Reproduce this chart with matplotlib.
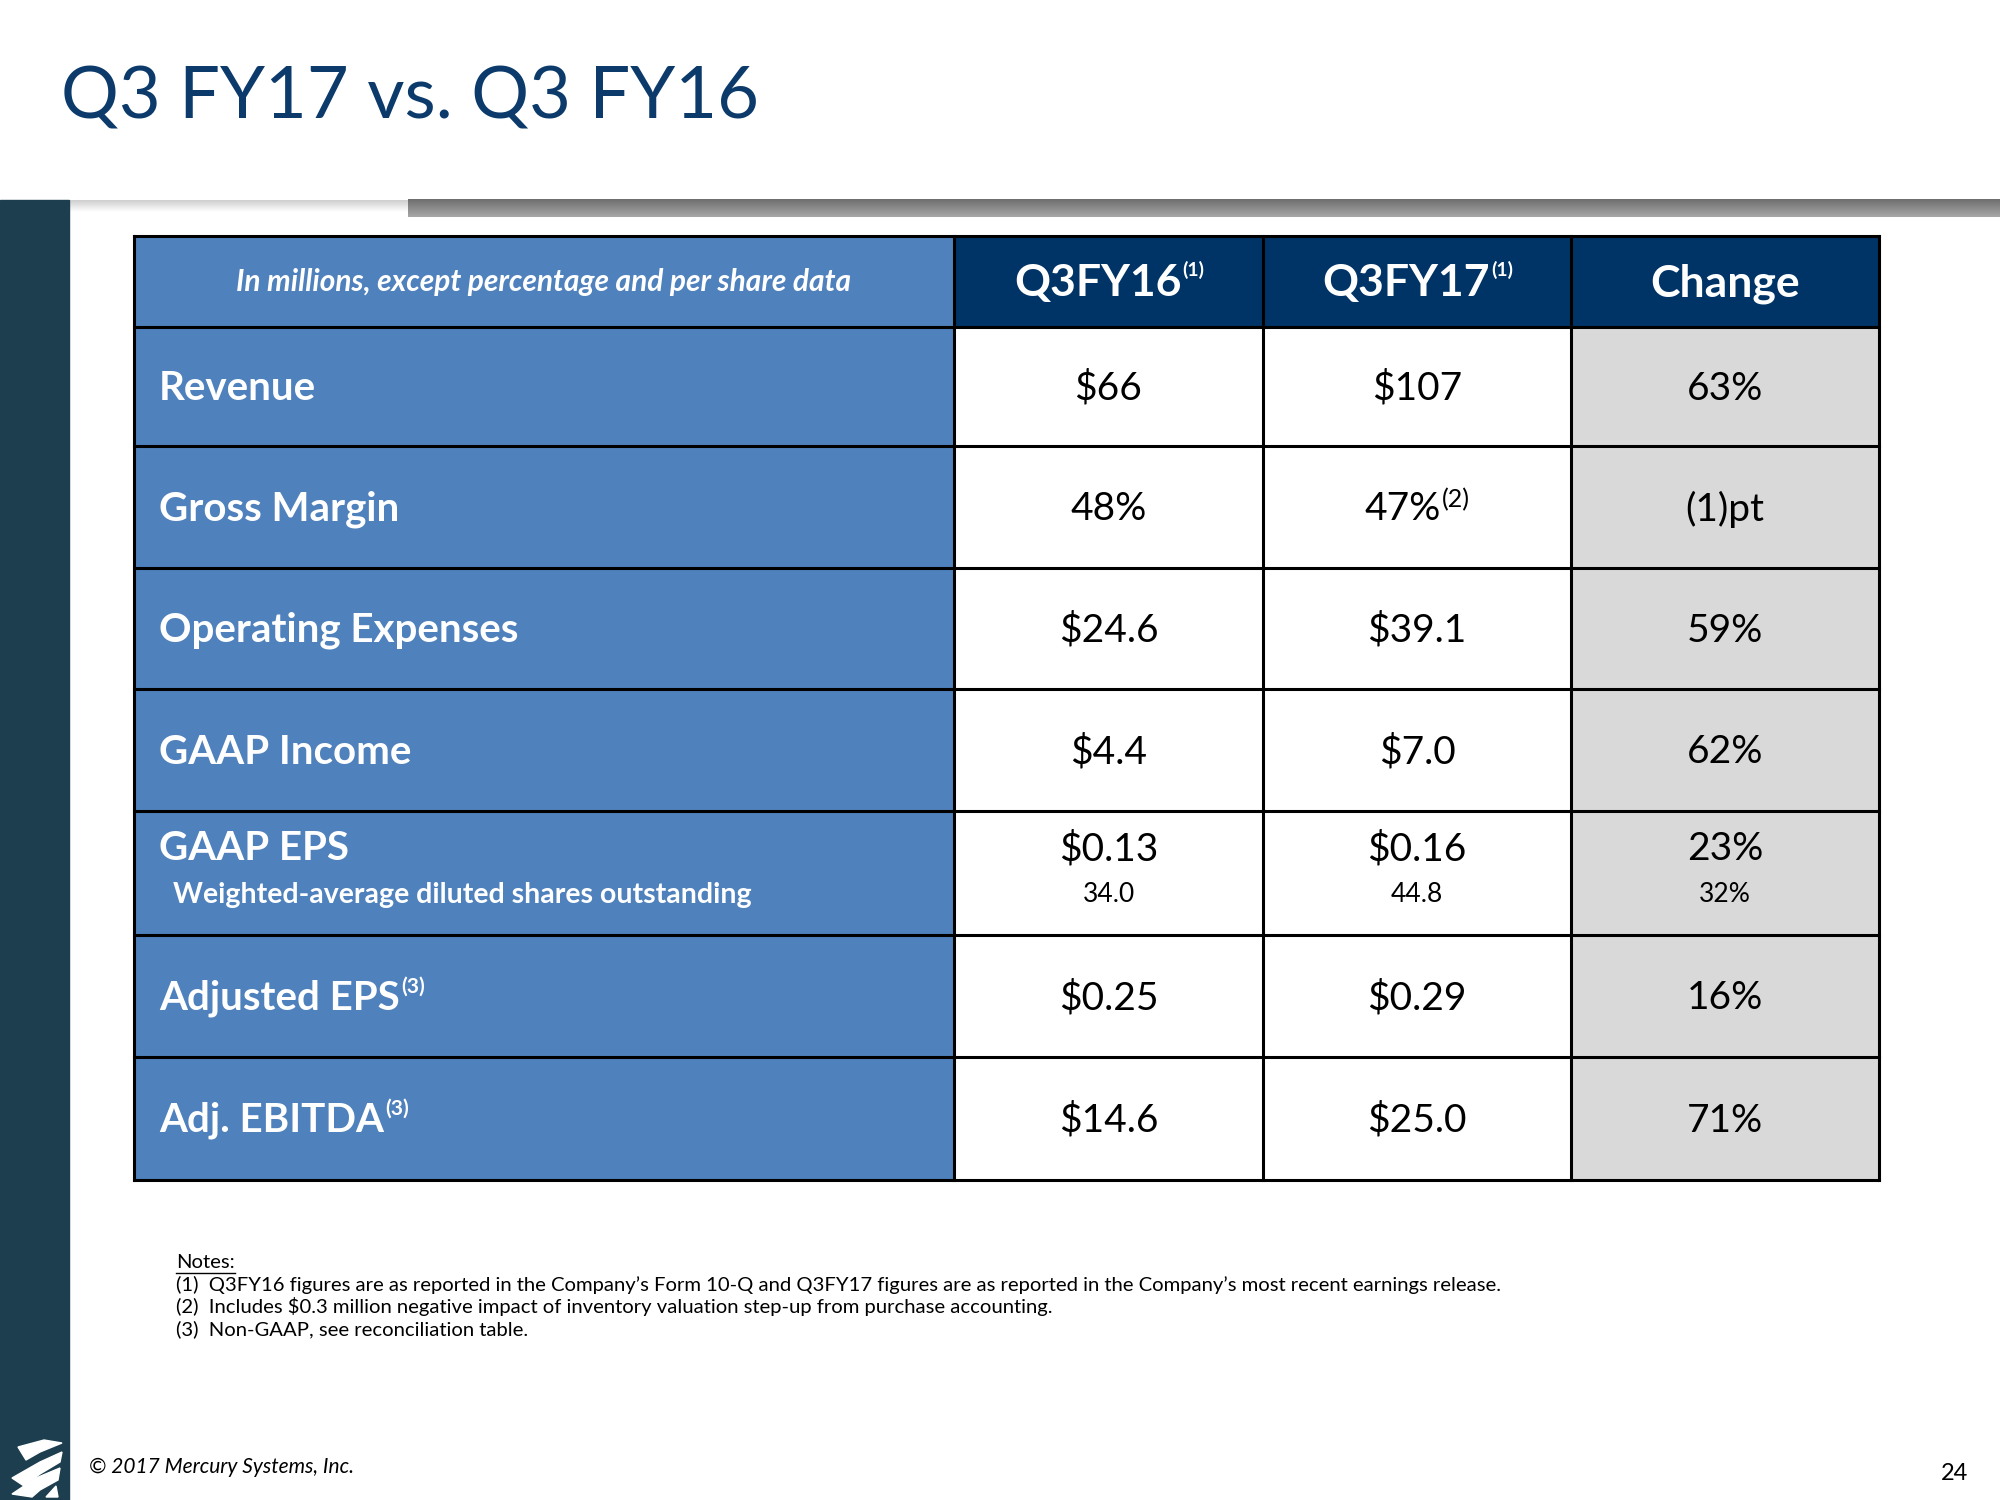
import numpy as np
import matplotlib
matplotlib.use('Agg')
import matplotlib.pyplot as plt
from matplotlib.patches import Rectangle, Polygon

plt.rcParams['font.family'] = ['Lato', 'DejaVu Sans']

# 표 데이터
labels = ['Revenue', 'Gross Margin', 'Operating Expenses', 'GAAP Income', 'GAAP EPS', 'Adjusted EPS', 'Adj. EBITDA']
label_notes = ['', '', '', '', '', '(3)', '(3)']
q3fy16 = ['$66', '48%', '$24.6', '$4.4', '$0.13', '$0.25', '$14.6']
q3fy17 = ['$107', '47%', '$39.1', '$7.0', '$0.16', '$0.29', '$25.0']
q3fy17_notes = ['', '(2)', '', '', '', '', '']
change = ['63%', '(1)pt', '59%', '62%', '23%', '16%', '71%']
shares_label = 'Weighted-average diluted shares outstanding'
shares = ['34.0', '44.8', '32%']
headers = ['Q3FY16', 'Q3FY17', 'Change']
header_notes = ['(1)', '(1)', '']
notes = ['(1)  Q3FY16 figures are as reported in the Company\u2019s Form 10-Q and Q3FY17 figures are as reported in the Company\u2019s most recent earnings release.',
         '(2)  Includes $0.3 million negative impact of inventory valuation step-up from purchase accounting.',
         '(3)  Non-GAAP, see reconciliation table.']

NAVY = '#003366'
BLUE = '#4F81BD'
GRAY = '#D9D9D9'
STRIP = '#1C3E4E'

fig = plt.figure(figsize=(20, 15), dpi=100)
ax = fig.add_axes([0, 0, 1, 1])
ax.set_xlim(0, 2000)
ax.set_ylim(1500, 0)
ax.axis('off')
renderer = fig.canvas.get_renderer()


def esc(s):
    return s.replace('$', r'\$')


def text_sup(xc, yc, main, note, size, nsize, color, weight='normal', nweight=None, **kw):
    # 본문+위첨자를 묶어서 가운데 정렬
    t = ax.text(xc, yc, esc(main), fontsize=size, color=color, weight=weight, ha='center', va='center', zorder=3, **kw)
    if not note:
        return t
    n = ax.text(0, 0, note, fontsize=nsize, color=color, weight=nweight or weight, ha='left', va='top', zorder=3)
    nw = n.get_window_extent(renderer=renderer).width
    t.set_x(xc - nw / 2)
    bb = t.get_window_extent(renderer=renderer)
    n.set_position((bb.x1 + 1, 1500 - bb.y1 - 3))
    return t


def sup_left(t, note, size, color, weight='normal'):
    bb = t.get_window_extent(renderer=renderer)
    ax.text(bb.x1 + 1, 1500 - bb.y1 - 3, note, fontsize=size, color=color, weight=weight, ha='left', va='top', zorder=3)


# 상단 장식
ax.add_patch(Rectangle((0, 200), 69, 1300, color=STRIP, zorder=1))
grad = np.linspace(0, 1, 50).reshape(-1, 1)
ax.imshow(grad, extent=(408, 2000, 217, 199), cmap=matplotlib.colors.LinearSegmentedColormap.from_list('g', ['#6e6e6e', '#a8a8a8']), aspect='auto', zorder=1)
ax.imshow(grad, extent=(69, 2000, 212, 200), cmap=matplotlib.colors.LinearSegmentedColormap.from_list('s', ['#cfcfcf', '#ffffff']), aspect='auto', zorder=0.5)
ax.set_xlim(0, 2000)
ax.set_ylim(1500, 0)

ax.text(61, 98, 'Q3 FY17 vs. Q3 FY16', fontsize=52, color='#0B3A6B', ha='left', va='center')

# 표 레이아웃
col_x = [134, 954, 1263, 1571, 1879]
row_y = [236, 327, 446, 568, 689, 811, 935, 1057, 1180]

# 헤더 행
ax.add_patch(Rectangle((col_x[0], row_y[0]), col_x[1] - col_x[0], row_y[1] - row_y[0], color=BLUE, zorder=2))
ax.add_patch(Rectangle((col_x[1], row_y[0]), col_x[4] - col_x[1], row_y[1] - row_y[0], color=NAVY, zorder=2))
ax.text((col_x[0] + col_x[1]) / 2, (row_y[0] + row_y[1]) / 2, 'In millions, except percentage and per share data',
        fontsize=21.5, color='white', style='italic', weight='bold', ha='center', va='center', zorder=3)
for j, h in enumerate(headers):
    text_sup((col_x[j + 1] + col_x[j + 2]) / 2, (row_y[0] + row_y[1]) / 2 + 2, h, header_notes[j], 32, 14, 'white', 'bold')

# 본문 행
for i, lab in enumerate(labels):
    y0, y1 = row_y[i + 1], row_y[i + 2]
    yc = (y0 + y1) / 2 + 2
    ax.add_patch(Rectangle((col_x[0], y0), col_x[1] - col_x[0], y1 - y0, color=BLUE, zorder=2))
    ax.add_patch(Rectangle((col_x[1], y0), col_x[3] - col_x[1], y1 - y0, color='white', zorder=2))
    ax.add_patch(Rectangle((col_x[3], y0), col_x[4] - col_x[3], y1 - y0, color=GRAY, zorder=2))
    vals = [q3fy16[i], q3fy17[i], change[i]]
    if lab == 'GAAP EPS':
        ym, ys = y0 + 38, y0 + 84
        ax.text(159, ym, lab, fontsize=29, color='white', weight='bold', ha='left', va='center', zorder=3)
        ax.text(173, ys, shares_label, fontsize=20.5, color='white', weight='bold', ha='left', va='center', zorder=3)
        for j in range(3):
            xc = (col_x[j + 1] + col_x[j + 2]) / 2
            ax.text(xc, ym, esc(vals[j]), fontsize=28, color='black', ha='center', va='center', zorder=3)
            ax.text(xc, ys, shares[j], fontsize=19, color='black', ha='center', va='center', zorder=3)
        continue
    t = ax.text(159, yc, lab, fontsize=29, color='white', weight='bold', ha='left', va='center', zorder=3)
    if label_notes[i]:
        sup_left(t, label_notes[i], 15, 'white', 'bold')
    for j in range(3):
        xc = (col_x[j + 1] + col_x[j + 2]) / 2
        note = q3fy17_notes[i] if j == 1 else ''
        text_sup(xc, yc, vals[j], note, 28, 18, 'black')

# 격자선
for x in col_x:
    ax.plot([x, x], [row_y[0], row_y[-1]], color='black', lw=2.2, zorder=4, solid_capstyle='projecting')
for y in row_y:
    ax.plot([col_x[0], col_x[-1]], [y, y], color='black', lw=2.2, zorder=4, solid_capstyle='projecting')

# 주석
t = ax.text(176, 1263, 'Notes:', fontsize=14.6, color='black', ha='left', va='center')
bb = t.get_window_extent(renderer=renderer)
ax.plot([bb.x0, bb.x1], [1273, 1273], color='black', lw=1)
for k, n in enumerate(notes):
    ax.text(176, 1285 + 22 * k, esc(n), fontsize=14.6, color='black', ha='left', va='center')

# 하단
ax.text(89, 1467, '\u00a9 2017 Mercury Systems, Inc.', fontsize=15, style='italic', color='black', ha='left', va='center')
ax.text(1955, 1473, '24', fontsize=17, color='black', ha='center', va='center')

# 로고 (흰색 줄무늬)
ax.add_patch(Polygon([[18, 1447], [44, 1440], [62, 1443], [40, 1452], [26, 1460]], closed=True, color='white', zorder=2))
ax.add_patch(Polygon([[12, 1478], [40, 1462], [62, 1452], [60, 1462], [40, 1474], [24, 1486]], closed=True, color='white', zorder=2))
ax.add_patch(Polygon([[12, 1494], [36, 1478], [60, 1468], [58, 1480], [40, 1490], [32, 1497]], closed=True, color='white', zorder=2))
ax.add_patch(Polygon([[46, 1497], [56, 1486], [58, 1497]], closed=True, color='white', zorder=2))

fig.savefig('out.png', dpi=100)
